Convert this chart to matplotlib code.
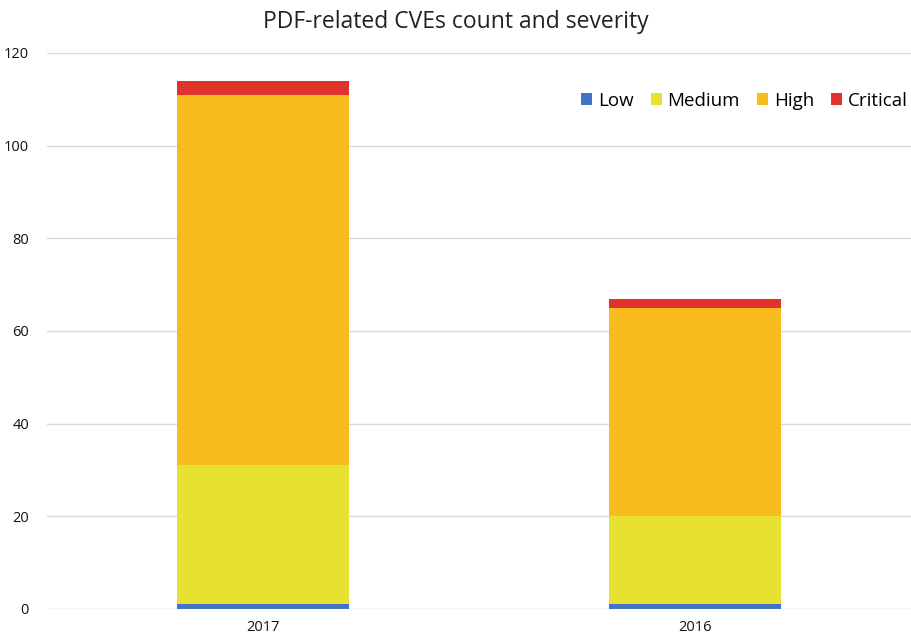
import matplotlib
matplotlib.use("Agg")
import matplotlib.pyplot as plt
import numpy as np

plt.rcParams['font.family'] = ['Open Sans', 'DejaVu Sans']

years = ["2017", "2016"]
severities = ["Low", "Medium", "High", "Critical"]
low = [1, 1]
medium = [30, 19]
high = [80, 45]
critical = [3, 2]
colors = ["#4472C4", "#E9E132", "#F8BC1E", "#E0332A"]

fig = plt.figure(figsize=(9.11, 6.44), dpi=100)
ax = fig.add_axes([47/911, 35/644, 864/911, 556/644])

x = np.arange(len(years))
bottom = np.zeros(len(years))
for name, vals, c in zip(severities, [low, medium, high, critical], colors):
    ax.bar(x, vals, width=0.4, bottom=bottom, color=c, label=name, zorder=3)
    bottom += np.array(vals)

ax.set_xlim(-0.5, 1.5)
ax.set_ylim(0, 120)
ax.set_yticks(range(0, 121, 20))
ax.set_xticks(x)
ax.set_xticklabels(years)
ax.grid(axis='y', color='#D9D9D9', linewidth=1, zorder=0)
for s in ax.spines.values():
    s.set_visible(False)
ax.tick_params(axis='both', length=0, labelsize=10.5, colors='#111111')
ax.tick_params(axis='y', pad=13)
ax.tick_params(axis='x', pad=8)

fig.suptitle("PDF-related CVEs count and severity", y=0.985, fontsize=16.5, color='#222222')

ax.legend(loc='upper right', bbox_to_anchor=(1.009, 0.95), ncol=4, frameon=False,
          fontsize=13.5, handlelength=0.6, handleheight=0.6, handletextpad=0.3,
          columnspacing=0.9, borderaxespad=0.2)

fig.savefig("out.png", dpi=100)
